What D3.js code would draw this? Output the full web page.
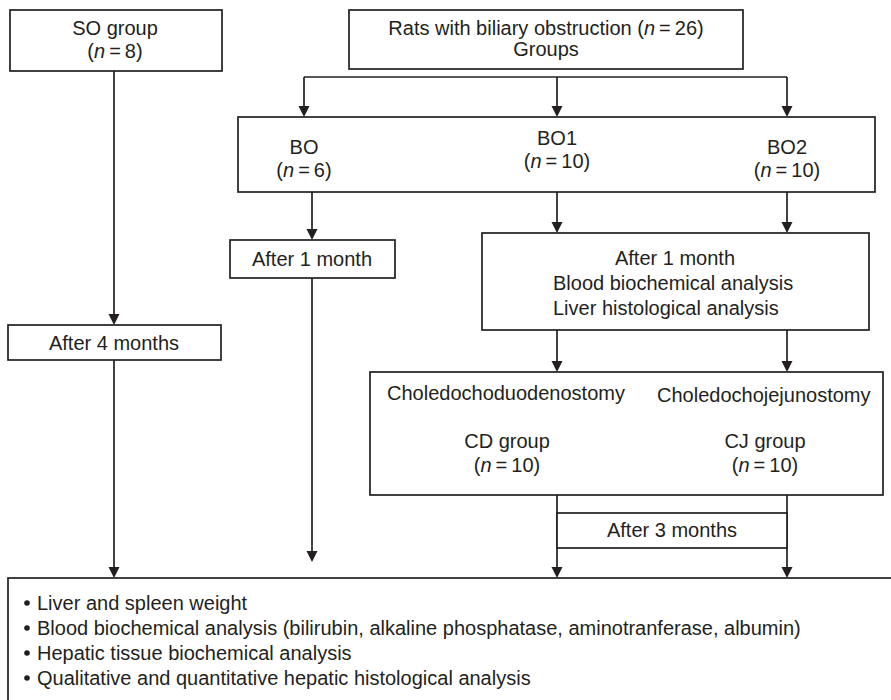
<!DOCTYPE html>
<html>
<head>
<meta charset="utf-8">
<script src="https://cdn.jsdelivr.net/npm/d3@7"></script>
<style>
  html, body { margin: 0; padding: 0; background: #fff; }
  svg { display: block; }
  text { font-family: "Liberation Sans", Arial, Helvetica, sans-serif; font-size: 20px; fill: #231f20; }
</style>
</head>
<body>
<svg id="chart" width="891" height="700"></svg>
<script>
// ---- content (text data) ----
const boxIds = ["so", "rats", "bo", "after1L", "after4", "after1R", "cdcj", "after3", "outcome"];
const soLines = ["SO group", "(n=8)"];
const ratsLines = ["Rats with biliary obstruction (n=26)", "Groups"];
const boGroups = ["BO", "BO1", "BO2"];
const boCounts = ["(n=6)", "(n=10)", "(n=10)"];
const after1LLines = ["After 1 month"];
const after4Lines = ["After 4 months"];
const after1RLines = ["After 1 month", "Blood biochemical analysis", "Liver histological analysis"];
const surgeryNames = ["Choledochoduodenostomy", "Choledochojejunostomy"];
const surgeryGroups = ["CD group", "CJ group"];
const surgeryCounts = ["(n=10)", "(n=10)"];
const after3Lines = ["After 3 months"];
const outcomeItems = [
  "Liver and spleen weight",
  "Blood biochemical analysis (bilirubin, alkaline phosphatase, aminotranferase, albumin)",
  "Hepatic tissue biochemical analysis",
  "Qualitative and quantitative hepatic histological analysis"
];

// ---- layout (pixel positions) ----
const boxes = {
  so:      {x: 10,  y: 10,  w: 212, h: 61},
  rats:    {x: 349, y: 10,  w: 394, h: 59},
  bo:      {x: 238, y: 117, w: 637, h: 75},
  after1L: {x: 230, y: 240, w: 165, h: 38},
  after4:  {x: 8,   y: 325, w: 213, h: 35},
  after1R: {x: 482, y: 233, w: 387, h: 97},
  cdcj:    {x: 370, y: 372, w: 513, h: 123},
  after3:  {x: 557, y: 513, w: 230, h: 35},
  outcome: {x: 8,   y: 578, w: 1000, h: 300}
};

const texts = [
  {t: soLines[0], x: 115, y: 35, a: "middle"},
  {t: soLines[1], x: 115, y: 58, a: "middle"},
  {t: ratsLines[0], x: 546, y: 35, a: "middle"},
  {t: ratsLines[1], x: 546, y: 56, a: "middle"},
  {t: boGroups[0], x: 304, y: 154, a: "middle"},
  {t: boCounts[0], x: 304, y: 177, a: "middle"},
  {t: boGroups[1], x: 557, y: 145, a: "middle"},
  {t: boCounts[1], x: 557, y: 168, a: "middle"},
  {t: boGroups[2], x: 787, y: 154, a: "middle"},
  {t: boCounts[2], x: 787, y: 177, a: "middle"},
  {t: after1LLines[0], x: 312, y: 266, a: "middle"},
  {t: after4Lines[0], x: 114, y: 350, a: "middle"},
  {t: after1RLines[0], x: 675, y: 265, a: "middle"},
  {t: after1RLines[1], x: 553, y: 290, a: "start"},
  {t: after1RLines[2], x: 553, y: 315, a: "start"},
  {t: surgeryNames[0], x: 387, y: 400, a: "start"},
  {t: surgeryNames[1], x: 657, y: 402, a: "start"},
  {t: surgeryGroups[0], x: 507, y: 448, a: "middle"},
  {t: surgeryCounts[0], x: 507, y: 472, a: "middle"},
  {t: surgeryGroups[1], x: 765, y: 448, a: "middle"},
  {t: surgeryCounts[1], x: 765, y: 472, a: "middle"},
  {t: after3Lines[0], x: 672, y: 537, a: "middle"}
];

// connectors: [x1,y1,x2,y2, arrow]
const links = [
  [114, 71, 114, 325, true],
  [114, 360, 114, 578, true],
  [304, 77, 787, 77, false],
  [304, 77, 304, 117, true],
  [557, 77, 557, 117, true],
  [787, 77, 787, 117, true],
  [312, 192, 312, 240, true],
  [312, 278, 312, 562, true],
  [557, 192, 557, 233, true],
  [787, 192, 787, 233, true],
  [557, 330, 557, 372, true],
  [787, 330, 787, 372, true],
  [557, 495, 557, 578, true],
  [787, 495, 787, 578, true]
];

const ink = "#231f20";
const svg = d3.select("#chart");

// lines
svg.append("g").selectAll("line").data(links).join("line")
  .attr("x1", d => d[0]).attr("y1", d => d[1])
  .attr("x2", d => d[2]).attr("y2", d => d[3] - (d[4] ? 6 : 0))
  .attr("stroke", ink).attr("stroke-width", 1.7);

// arrowheads
svg.append("g").selectAll("path").data(links.filter(d => d[4])).join("path")
  .attr("d", d => {
    const p = d3.path();
    p.moveTo(d[2] - 5.5, d[3] - 11);
    p.lineTo(d[2] + 5.5, d[3] - 11);
    p.lineTo(d[2], d[3]);
    p.closePath();
    return p.toString();
  })
  .attr("fill", ink);

// boxes
svg.append("g").selectAll("rect").data(boxIds).join("rect")
  .attr("x", id => boxes[id].x).attr("y", id => boxes[id].y)
  .attr("width", id => boxes[id].w).attr("height", id => boxes[id].h)
  .attr("fill", id => id === "after3" ? "#fff" : "none")
  .attr("stroke", ink).attr("stroke-width", 1.7);

// text with italic n
function fill(sel, str) {
  const m = str.match(/^(.*\()n=(\d+)(\).*)$/);
  if (!m) { sel.text(str); return; }
  sel.append("tspan").text(m[1]);
  sel.append("tspan").attr("font-style", "italic").text("n");
  sel.append("tspan").text("\u2009=\u2009" + m[2] + m[3]);
}

svg.append("g").selectAll("text").data(texts).join("text")
  .attr("x", d => d.x).attr("y", d => d.y)
  .attr("text-anchor", d => d.a)
  .each(function(d) { fill(d3.select(this), d.t); });

// outcome bullets
const og = svg.append("g");
outcomeItems.forEach((item, i) => {
  const y = 610 + i * 25;
  og.append("circle").attr("cx", 27).attr("cy", y - 7).attr("r", 2.8).attr("fill", ink);
  og.append("text").attr("x", 37).attr("y", y).text(item);
});
</script>
</body>
</html>
